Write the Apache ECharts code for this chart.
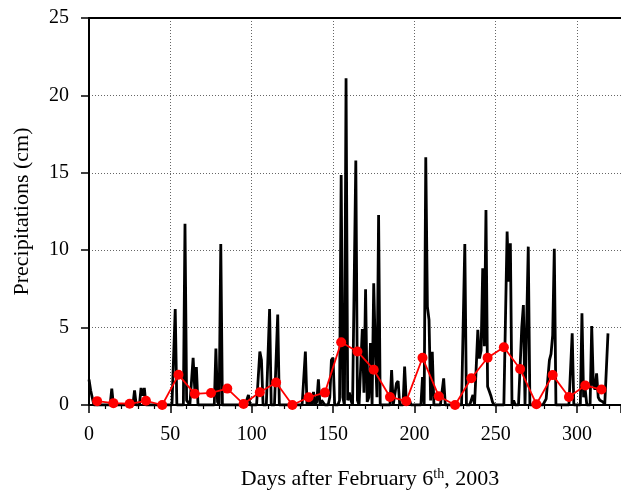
<!DOCTYPE html>
<html>
<head>
<meta charset="utf-8">
<script src="https://cdn.jsdelivr.net/npm/echarts@6/dist/echarts.min.js"></script>
<style>
html,body{margin:0;padding:0;background:#fff;}
#chart{width:621px;height:491px;}
</style>
</head>
<body>
<div id="chart"></div>
<script>
// Daily precipitation (cm), index = days after February 6th, 2003 (day 0 .. 319)
const dailyPrecip = [
  1.65, 0.95, 0.9, 0, 0, 0, 0, 0, 0, 0,
  0, 0, 0, 0, 1.05, 0, 0, 0, 0, 0,
  0, 0, 0, 0, 0, 0, 0, 0, 0.95, 0,
  0, 0, 1.1, 0.6, 1.1, 0, 0, 0, 0, 0,
  0, 0, 0, 0, 0, 0, 0, 0, 0, 0,
  0, 0, 0, 6.2, 0, 0, 0, 0, 0, 11.7,
  0.3, 0.4, 0, 0, 3.05, 1.0, 2.45, 0, 0, 0,
  0, 0, 0, 0, 0, 0, 0, 0, 3.65, 0.2,
  0, 10.4, 0, 0, 0, 0, 0, 0, 0, 0,
  0, 0, 0, 0, 0, 0, 0, 0, 0.65, 0,
  0, 0, 0, 0, 0, 3.45, 2.9, 0, 0, 0,
  0, 6.2, 0, 0, 0, 0, 5.85, 0, 0, 0,
  0, 0, 0, 0, 0, 0, 0, 0, 0, 0,
  0, 0, 0, 3.45, 0, 0, 0.2, 0, 0.85, 0,
  0.2, 1.65, 0, 0.3, 0.2, 0, 0, 0, 0.5, 2.9,
  3.05, 0, 0, 0, 0.3, 14.85, 0.5, 0, 21.1, 0.3,
  0.8, 0.3, 0, 0, 15.8, 0.3, 0, 0, 4.9, 0.8,
  7.47, 0.2, 0.5, 4.0, 0, 7.86, 3.5, 0.5, 12.27, 0,
  0, 0, 0, 0, 0, 0, 2.26, 0, 0, 1.4,
  1.55, 0, 0, 0, 2.48, 0.3, 0.4, 0.3, 0, 0,
  0, 0, 0, 0, 0, 1.8, 0, 16.0, 6.35, 5.5,
  0.3, 3.44, 0, 0, 0, 0, 0, 0, 1.72, 0,
  0, 0, 0, 0, 0, 0, 0, 0, 0, 0,
  0, 10.4, 0, 0, 0, 0, 0.65, 0, 0, 4.85,
  3.0, 3.5, 8.83, 3.8, 12.6, 1.2, 0.9, 0.6, 0.2, 0,
  0, 0, 0, 0, 0, 0, 0, 11.2, 7.97, 10.44,
  0, 0.3, 0, 0, 0, 0, 5.0, 6.46, 0, 0,
  10.23, 0, 0, 0, 0, 0, 0, 0, 0, 0,
  0, 0.4, 0.5, 2.9, 3.3, 4.5, 10.1, 0, 0, 0,
  0, 0, 0, 0, 0, 0, 0, 4.63, 0, 0,
  0, 0, 0, 5.92, 0.5, 1.0, 0, 0, 0, 5.1,
  1.3, 1.0, 2.05, 0.5, 0.3, 0.3, 0.2, 0, 0, 4.63
];

// 10-day averages (red)
const avgDays = [5, 15, 25, 35, 45, 55, 65, 75, 85, 95, 105, 115, 125, 135, 145, 155,
                 165, 175, 185, 195, 205, 215, 225, 235, 245, 255, 265, 275, 285, 295, 305, 315];
const avgValues = [0.25, 0.12, 0.08, 0.27, 0.0, 1.95, 0.72, 0.78, 1.06, 0.06, 0.82, 1.45, 0.0, 0.5, 0.8, 4.05,
                   3.46, 2.28, 0.52, 0.25, 3.05, 0.57, 0.0, 1.73, 3.05, 3.73, 2.32, 0.05, 1.93, 0.52, 1.26, 1.0];

const xTickInterval = 50;
const yTickInterval = 5;

const dailyData = dailyPrecip.map((v, i) => [i, v]);
const avgData = avgDays.map((d, i) => [d, avgValues[i]]);

const serif = 'Liberation Serif, Times New Roman, serif';
const dotted = { type: [1, 2], color: '#666', width: 1 };

const chart = echarts.init(document.getElementById('chart'), null, { renderer: 'canvas' });
chart.setOption({
  animation: false,
  backgroundColor: '#fff',
  grid: { left: 89, right: 0, top: 18, bottom: 86, containLabel: false, outerBoundsMode: 'none' },
  xAxis: [{
    type: 'value', min: 0, max: 327, interval: xTickInterval, position: 'bottom',
    axisLine: { show: true, onZero: false, lineStyle: { color: '#000', width: 2 } },
    axisTick: { show: true, inside: false, length: 8, lineStyle: { color: '#000', width: 1.5 } },
    minorTick: { show: true, splitNumber: 5, length: 4, lineStyle: { color: '#000', width: 1.2 } },
    axisLabel: { color: '#000', fontFamily: serif, fontSize: 20, margin: 20, showMaxLabel: false },
    splitLine: { show: true, lineStyle: dotted },
    name: 'Days after February 6{sup|th}, 2003',
    nameLocation: 'middle', nameGap: 62,
    nameTextStyle: {
      color: '#000', fontFamily: serif, fontSize: 22, padding: [0, 0, 0, 30],
      rich: { sup: { fontSize: 14, fontFamily: serif, color: '#000', verticalAlign: 'top', padding: [0, 0, 10, 0] } }
    }
  }, {
    type: 'value', min: 0, max: 327, position: 'top',
    axisLine: { show: true, onZero: false, lineStyle: { color: '#000', width: 2 } },
    axisTick: { show: false }, axisLabel: { show: false }, splitLine: { show: false }
  }],
  yAxis: {
    type: 'value', min: 0, max: 25, interval: yTickInterval,
    axisLine: { show: true, onZero: false, lineStyle: { color: '#000', width: 2 } },
    axisTick: { show: true, inside: false, length: 8, lineStyle: { color: '#000', width: 1.5 } },
    axisLabel: { color: '#000', fontFamily: serif, fontSize: 20, margin: 20 },
    splitLine: { show: true, lineStyle: dotted },
    name: 'Precipitations (cm)', nameLocation: 'middle', nameGap: 56, nameRotate: 90,
    nameTextStyle: { color: '#000', fontFamily: serif, fontSize: 22 }
  },
  series: [{
    type: 'line', data: dailyData, showSymbol: false, symbol: 'none',
    lineStyle: { color: '#000', width: 2.8 }, z: 2, clip: true
  }, {
    type: 'line', data: avgData, symbol: 'circle', symbolSize: 10,
    itemStyle: { color: '#ff0000' }, lineStyle: { color: '#ff0000', width: 1.8 }, z: 3
  }]
});
</script>
</body>
</html>
